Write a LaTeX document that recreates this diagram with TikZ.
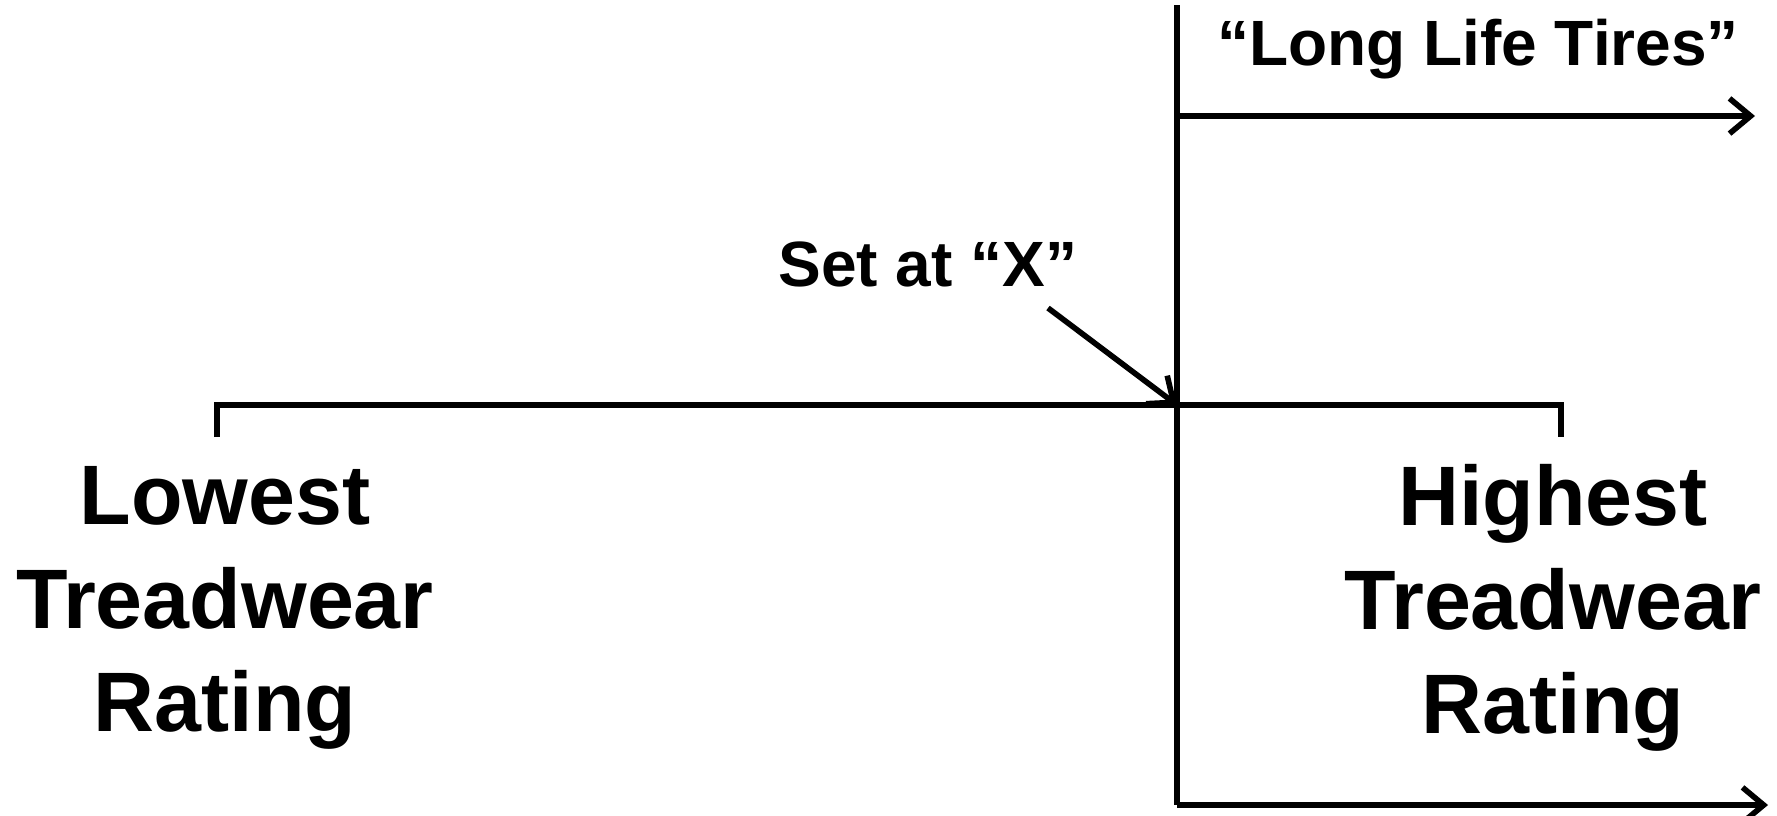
\documentclass[tikz,border=0pt]{standalone}
\usepackage{fontspec}
\setmainfont{Liberation Sans}
\usetikzlibrary{arrows.meta, positioning}

\begin{document}
\begin{tikzpicture}[x=0.01cm, y=-0.01cm,
    axis/.style={line width=1.6pt, black},
    pointer/.style={axis, -{Straight Barb[length=6pt, width=10pt]}},
    biglabel/.style={align=center, font=\fontsize{24}{29.5}\selectfont\bfseries},
    smalllabel/.style={font=\fontsize{18.2}{22}\selectfont\bfseries}
]
\useasboundingbox (0,0) rectangle (1777,815);

% Points of the axes
\coordinate (vtop) at (1177,5);
\coordinate (vbot) at (1177,805);
\coordinate (cross) at (1177,405);
\coordinate (lifeleft) at (1177,116);
\coordinate (liferight) at (1755,116);
\coordinate (botright) at (1768,805);
\coordinate (lowtick) at (217,437);
\coordinate (lowend) at (217,405);
\coordinate (highend) at (1561,405);
\coordinate (hightick) at (1561,437);
\coordinate (setstart) at (1048,308);

% Labels
\node[biglabel] (lowest) at (225,608) {Lowest\\Treadwear\\Rating};
\node[biglabel] (highest) at (1553,608) {Highest\\Treadwear\\Rating};
\node[smalllabel] (setx) at (928,264) {Set at “X”};
\node[smalllabel] (longlife) at (1478,49) {“Long Life Tires”};

% Rating scale
\draw[axis] (lowtick) -- (lowend) -- (highend) -- (hightick);

% Cut-off line and arrows
\draw[axis] (vtop) -- (vbot);
\draw[pointer] (lifeleft) -- (liferight);
\draw[pointer] (vbot) -- (botright);
\draw[pointer] (setstart) -- (cross);
\end{tikzpicture}
\end{document}
